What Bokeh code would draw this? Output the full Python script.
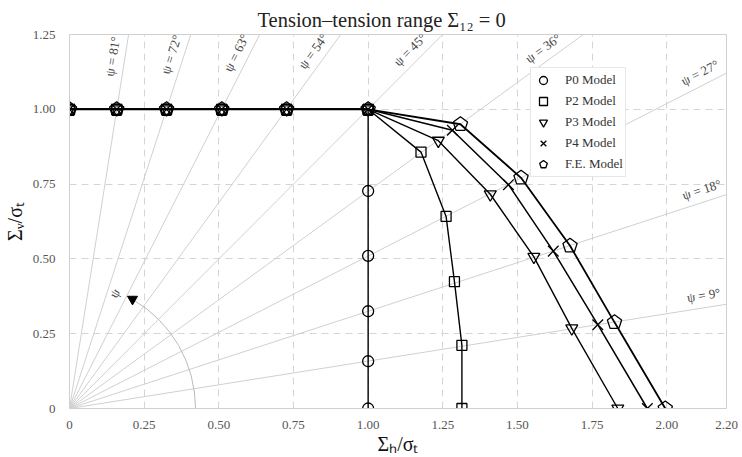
import numpy as np
from bokeh.plotting import figure
from bokeh.models import FixedTicker, Legend, LegendItem
from bokeh.core.properties import value
from bokeh.embed import file_html
from bokeh.resources import INLINE

# ---- data ----
ray_angles_deg = [9, 18, 27, 36, 45, 54, 63, 72, 81]
ray_labels = ["ψ = 9°", "ψ = 18°", "ψ = 27°", "ψ = 36°", "ψ = 45°",
              "ψ = 54°", "ψ = 63°", "ψ = 72°", "ψ = 81°"]

top_x = [0.0, 0.158, 0.325, 0.51, 0.727, 1.0]
top_y = [1.0, 1.0, 1.0, 1.0, 1.0, 1.0]

p0_x = top_x + [1.0, 1.0, 1.0, 1.0, 1.0]
p0_y = top_y + [0.727, 0.51, 0.325, 0.158, 0.0]

p2_x = top_x + [1.177, 1.261, 1.289, 1.314, 1.314]
p2_y = top_y + [0.857, 0.642, 0.424, 0.211, 0.0]

p3_x = top_x + [1.235, 1.409, 1.555, 1.682, 1.836]
p3_y = top_y + [0.895, 0.716, 0.507, 0.268, 0.0]

p4_x = top_x + [1.282, 1.470, 1.620, 1.769, 1.935]
p4_y = top_y + [0.930, 0.748, 0.526, 0.280, 0.0]

fe_x = top_x + [1.309, 1.512, 1.676, 1.825, 1.995]
fe_y = top_y + [0.950, 0.771, 0.544, 0.288, 0.0]

x_ticks = [0, 0.25, 0.5, 0.75, 1.0, 1.25, 1.5, 1.75, 2.0, 2.2]
x_tick_labels = ["0", "0.25", "0.50", "0.75", "1.00", "1.25", "1.50", "1.75", "2.00", "2.20"]
y_ticks = [0, 0.25, 0.5, 0.75, 1.0, 1.25]
y_tick_labels = ["0", "0.25", "0.50", "0.75", "1.00", "1.25"]

arc_radius = 0.422
arc_end_deg = 60

XMAX, YMAX = 2.2, 1.25
SERIF = "Liberation Serif"

p = figure(width=742, height=457, x_range=(0, XMAX), y_range=(0, YMAX),
           output_backend="svg", toolbar_location=None,
           title="Tension–tension range Σ₁₂ = 0",
           min_border_left=66, min_border_right=16, min_border_top=34, min_border_bottom=48)
p.background_fill_color = "white"
p.border_fill_color = "white"
p.outline_line_color = "#d0d0d0"
p.outline_line_width = 1

p.title.text_font = SERIF
p.title.text_font_size = "20.5px"
p.title.text_font_style = "normal"
p.title.text_color = "#222222"
p.title.align = "left"
p.title.offset = 188
p.title.standoff = 8

# axes
p.xaxis.ticker = FixedTicker(ticks=x_ticks)
p.yaxis.ticker = FixedTicker(ticks=y_ticks)
p.xaxis.major_label_overrides = {t: l for t, l in zip(x_ticks, x_tick_labels)}
p.yaxis.major_label_overrides = {t: l for t, l in zip(y_ticks, y_tick_labels)}
for ax in (p.xaxis, p.yaxis):
    ax.axis_line_color = "#d0d0d0"
    ax.major_tick_line_color = None
    ax.minor_tick_line_color = None
    ax.major_label_text_font = SERIF
    ax.major_label_text_font_size = "13px"
    ax.major_label_text_color = "#555555"
    ax.axis_label_text_font = SERIF
    ax.axis_label_text_font_style = "normal"
    ax.axis_label_text_font_size = "20px"
    ax.axis_label_text_color = "#111111"
p.xaxis.major_label_standoff = 6
p.yaxis.major_label_standoff = 8
p.xaxis.axis_label = "Σₕ/σₜ"
p.yaxis.axis_label = "Σᵥ/σₜ"
p.xaxis.axis_label_standoff = 1
p.yaxis.axis_label_standoff = 4

# grid (dashed)
p.xgrid.ticker = FixedTicker(ticks=[t for t in x_ticks if 0 < t < XMAX])
p.ygrid.ticker = FixedTicker(ticks=[t for t in y_ticks if 0 < t < YMAX])
for g in (p.xgrid, p.ygrid):
    g.grid_line_color = "#d5d5d5"
    g.grid_line_dash = "7 5"
    g.grid_line_width = 1

# rays from origin
ang = np.radians(ray_angles_deg)
r_end = np.minimum(XMAX / np.cos(ang), YMAX / np.sin(ang))
p.segment(x0=np.zeros(len(ang)), y0=np.zeros(len(ang)),
          x1=r_end * np.cos(ang), y1=r_end * np.sin(ang),
          line_color="#d0d0d0", line_width=1)

# ray labels
r_lab = np.minimum(2.13 / np.cos(ang), 1.17 / np.sin(ang))
off = 0.042
lx = r_lab * np.cos(ang) - off * np.sin(ang)
ly = r_lab * np.sin(ang) + off * np.cos(ang)
p.text(x=lx, y=ly, text=ray_labels, angle=ang,
       text_font=value(SERIF), text_font_size="13px", text_color="#444444",
       text_align="center", text_baseline="middle")

# angle arc with arrow head
p.arc(x=[0], y=[0], radius=arc_radius, start_angle=0, end_angle=np.radians(arc_end_deg),
      line_color="#bbbbbb", line_width=1)
ae = np.radians(arc_end_deg)
p.scatter(x=[arc_radius * np.cos(ae)], y=[arc_radius * np.sin(ae)],
          marker="inverted_triangle", size=10, color="black")
p.text(x=[arc_radius * np.cos(ae) - 0.06], y=[arc_radius * np.sin(ae) + 0.02], text=["ψ"],
       angle=np.radians(60), text_font=value(SERIF), text_font_size="13px",
       text_color="#444444", text_align="center", text_baseline="middle")

# model lines
series = [(p0_x, p0_y, 1.4), (p2_x, p2_y, 1.4), (p3_x, p3_y, 1.4),
          (p4_x, p4_y, 1.5), (fe_x, fe_y, 1.8)]
for sx, sy, lw in series:
    p.line(sx, sy, line_color="black", line_width=lw)

mk = dict(fill_color=None, line_color="black", line_width=1.3)
r0 = p.scatter(p0_x, p0_y, marker="circle", size=11, **mk)
r2 = p.scatter(p2_x, p2_y, marker="square", size=10, **mk)
r3 = p.scatter(p3_x, p3_y, marker="inverted_triangle", size=12, **mk)
r4 = p.scatter(p4_x, p4_y, marker="x", size=15, **mk)
r5 = p.ngon(x=fe_x, y=fe_y, radius=7.5, radius_units="screen", n=5,
            angle=0, **mk)

legend = Legend(items=[
    LegendItem(label="P0 Model", renderers=[r0]),
    LegendItem(label="P2 Model", renderers=[r2]),
    LegendItem(label="P3 Model", renderers=[r3]),
    LegendItem(label="P4 Model", renderers=[r4]),
    LegendItem(label="F.E. Model", renderers=[r5]),
], location=(461, 231))
legend.label_text_font = SERIF
legend.label_text_font_size = "13px"
legend.label_text_color = "#333333"
legend.padding = 2
legend.spacing = 1
legend.label_height = 20
legend.glyph_height = 20
legend.glyph_width = 20
legend.label_standoff = 12
legend.margin = 0
legend.border_line_color = "#d0d0d0"
legend.background_fill_color = "white"
legend.background_fill_alpha = 1
p.add_layout(legend, "center")

open("out.html", "w").write(file_html(p, INLINE))
